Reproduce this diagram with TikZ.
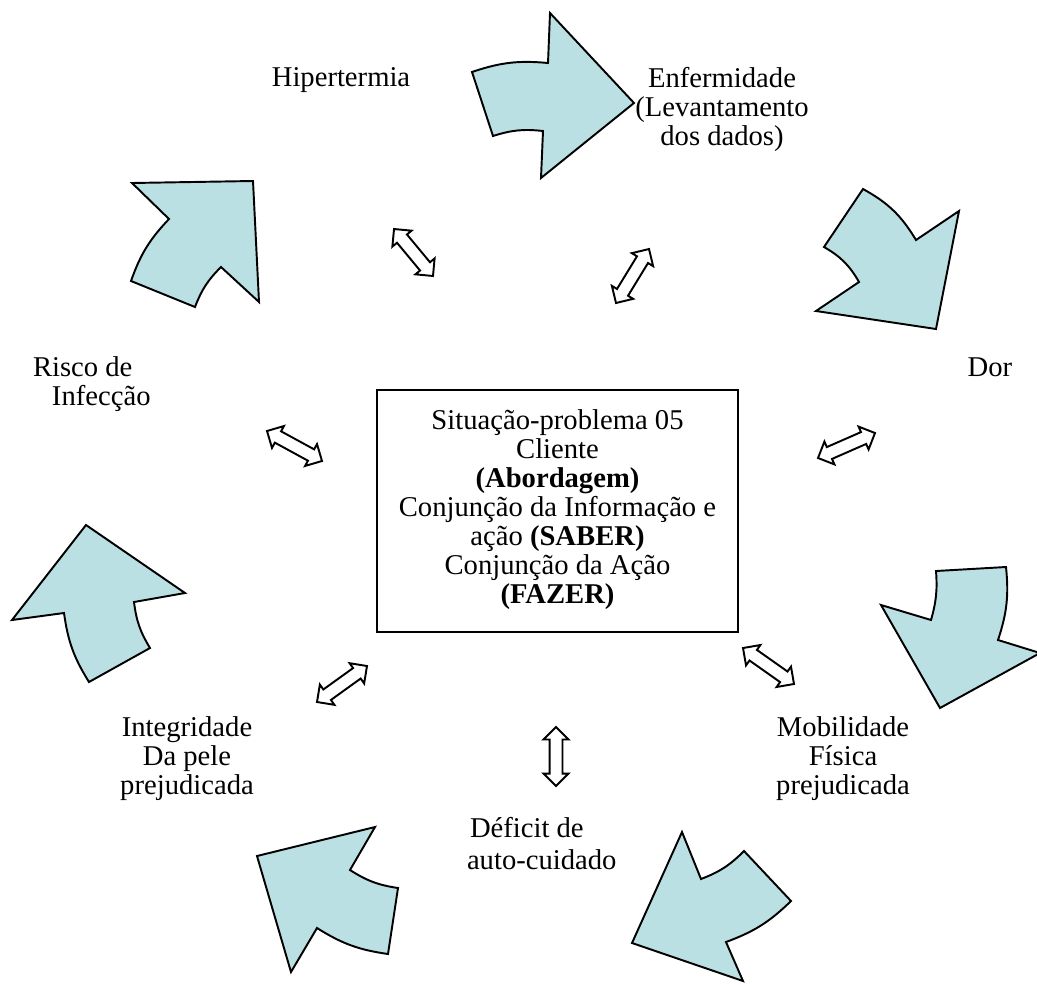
\documentclass[tikz,border=0pt]{standalone}
\usepackage{fontspec}
\setmainfont{Liberation Serif}
\usetikzlibrary{calc,shapes.arrows}
\definecolor{petal}{RGB}{187,224,227}

% hollow two-headed block arrow between two named points
\newcommand\twowaylink[3]{%
  \path let \p1=(#2), \p2=(#3),
            \n1={veclen(\x2-\x1,\y2-\y1)},
            \n2={atan2(\y2-\y1,\x2-\x1)} in
    node[link, minimum height=\n1, rotate=\n2] (#1) at ($(\p1)!0.5!(\p2)$) {};}

\begin{document}
\begin{tikzpicture}[x=0.02cm,y=-0.02cm,
  bigarrow/.style={draw=black, line width=1.1pt, fill=petal, line join=miter},
  link/.style={draw=black, line width=1.1pt, fill=white, double arrow,
               double arrow head extend=0.12cm, inner sep=0.11cm,
               minimum width=0pt, outer sep=0pt},
  caption/.style={align=center, inner sep=0pt, outer sep=0pt,
                  font=\fontsize{16.3}{16.5}\selectfont},
  hub/.style={draw=black, line width=1.1pt, minimum width=7.22cm,
              minimum height=4.84cm, inner sep=0pt}]
\useasboundingbox (0,0) rectangle (1037,984);

% central box
\node[hub] (hub) at (557.5,511) {};
\node[caption] (hubtext) at (557.5,510) {Situação-problema 05\\ Cliente\\
  \textbf{(Abordagem)}\\ Conjunção da Informação e\\ ação \textbf{(SABER)}\\
  Conjunção da Ação\\ \textbf{(FAZER)}};

% cycle of curved block arrows
\draw[bigarrow] (472,72) to[bend left=12] (548,63) -- (550,13) -- (634,103)
  -- (541,178) -- (543,131) to[bend right=12] (493,136) -- cycle;
\draw[bigarrow] (863,189) to[bend left=15] (916,240) -- (959,211) -- (936,329)
  -- (816,311) -- (859,282) to[bend right=15] (824,247) -- cycle;
\draw[bigarrow] (936,571) -- (1006,567) to[bend left=12] (998,640) -- (1040,653)
  -- (940,708) -- (881,605) -- (931,620) to[bend right=10] cycle;
\draw[bigarrow] (682,832) -- (701,879) to[bend right=12] (744,851) -- (791,901)
  to[bend left=12] (726,942) -- (743,981) -- (632,943) -- cycle;
\draw[bigarrow] (257,856) -- (375,827) -- (350,870) to[bend right=12] (398,888)
  -- (388,954) to[bend left=12] (317,928) -- (291,972) -- cycle;
\draw[bigarrow] (86,525) -- (185,593) -- (134,602) to[bend right=12] (150,648)
  -- (89,682) to[bend left=12] (64,613) -- (12,620) -- cycle;
\draw[bigarrow] (132,183) -- (253,181) -- (259,302) -- (221,267)
  to[bend right=12] (195,307) -- (131,281) to[bend left=12] (169,219) -- cycle;

% labels around the cycle
\node[caption, anchor=base] (hyper) at (341,86.5) {Hipertermia};
\node[caption, anchor=north] (illness) at (722,67) {Enfermidade\\ (Levantamento\\ dos dados)};
\node[caption, anchor=base] (pain) at (990,376) {Dor};
\node[caption, align=left, anchor=north west] (infection) at (33,357)
  {Risco de\\ \hspace*{0.38cm}Infecção};
\node[caption, anchor=north] (mobility) at (843,717) {Mobilidade\\ Física\\ prejudicada};
\node[caption, align=left, anchor=north west] (selfcare) at (467,817)
  {\hspace*{0.06cm}Déficit de\\[2pt] auto-cuidado};
\node[caption, anchor=north] (skin) at (187,717) {Integridade\\ Da pele\\ prejudicada};

% ends of the two-way links
\coordinate (a1) at (394,229); \coordinate (a2) at (433,276);
\coordinate (b1) at (616,303); \coordinate (b2) at (649,249);
\coordinate (c1) at (267,431); \coordinate (c2) at (322,461);
\coordinate (d1) at (818,458); \coordinate (d2) at (875,433);
\coordinate (e1) at (317,702); \coordinate (e2) at (367,666);
\coordinate (f1) at (743,648); \coordinate (f2) at (794,684);
\coordinate (g1) at (556,727); \coordinate (g2) at (556,786);

\twowaylink{linkA}{a1}{a2}
\twowaylink{linkB}{b1}{b2}
\twowaylink{linkC}{c1}{c2}
\twowaylink{linkD}{d1}{d2}
\twowaylink{linkE}{e1}{e2}
\twowaylink{linkF}{f1}{f2}
\twowaylink{linkG}{g1}{g2}
\end{tikzpicture}
\end{document}
